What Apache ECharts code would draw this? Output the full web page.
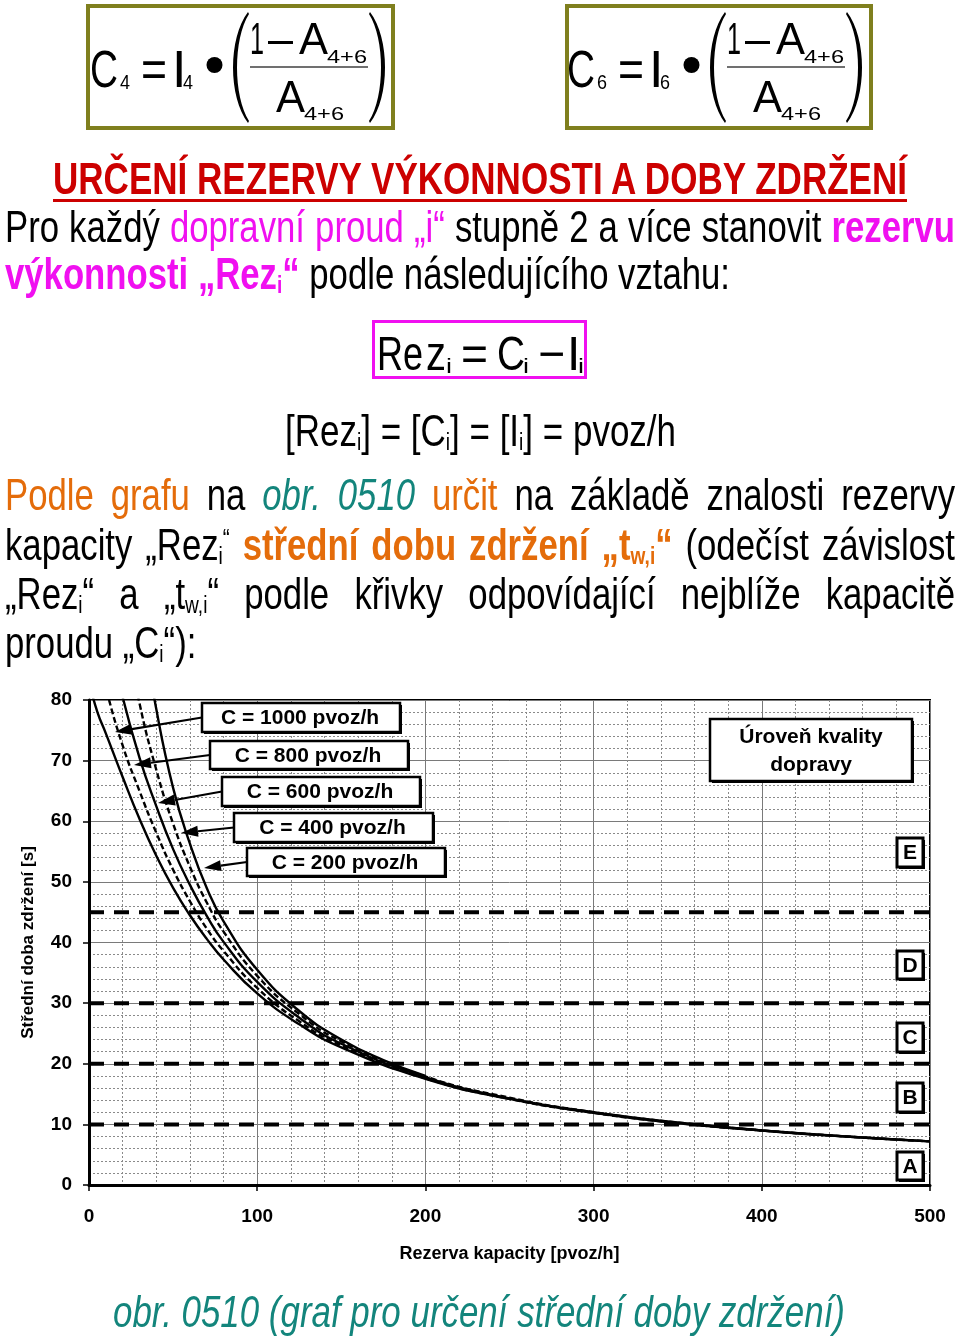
<!DOCTYPE html>
<html><head><meta charset="utf-8">
<script src="https://cdn.jsdelivr.net/npm/echarts@6/dist/echarts.min.js"></script>
<style>
html,body{margin:0;padding:0;background:#fff;}
#page{position:relative;width:960px;height:1341px;overflow:hidden;background:#fff;font-family:"Liberation Sans",Arial,sans-serif;}
#chart{position:absolute;left:0;top:0;width:960px;height:1341px;}
#txt{position:absolute;left:0;top:0;width:960px;height:1341px;pointer-events:none;}
.ln{position:absolute;white-space:nowrap;font-size:45px;line-height:45px;color:#000;transform-origin:0 0;display:inline-block;}
.m{color:#f010f0;}
.o{color:#e46c0a;}
.t{color:#13857c;font-style:italic;}
.s{font-size:55%;position:relative;top:0.18em;}
.q{font-size:60%;position:relative;top:-0.45em;}
.box{position:absolute;box-sizing:border-box;}
svg text{font-family:"Liberation Sans",Arial,sans-serif;fill:#000;}
</style></head>
<body>
<div id="page">
<div id="chart"></div>
<div id="txt">
  <div class="box" style="left:86px;top:4px;width:309px;height:126px;border:4px solid #7f7f1e;"></div>
  <div class="box" style="left:565px;top:4px;width:308px;height:126px;border:4px solid #7f7f1e;"></div>
  <div class="box" style="left:372px;top:320px;width:215px;height:59px;border:3px solid #f010f0;"></div>
  <svg id="formulas" width="960" height="470" style="position:absolute;left:0;top:0;"></svg>

  <div class="ln" id="title" data-mode="fit" data-w="854" style="left:53px;top:156px;font-weight:bold;color:#cc0000;text-decoration:underline;text-decoration-thickness:3px;text-underline-offset:5px;">URČENÍ REZERVY VÝKONNOSTI A DOBY ZDRŽENÍ</div>
  <div class="ln" data-mode="just" data-w="950" style="left:5px;top:204px;">Pro každý <span class="m">dopravní proud „i“</span> stupně 2 a více stanovit <b class="m">rezervu</b></div>
  <div class="ln" id="l2" data-mode="ref" data-w="725" style="left:5px;top:251px;"><b class="m">výkonnosti „Rez<span class="s">i</span>“</b> podle následujícího vztahu:</div>
  <div class="ln" data-mode="fit" data-w="391" style="left:285px;top:408px;">[Rez<span class="s">i</span>] = [C<span class="s">i</span>] = [I<span class="s">i</span>] = pvoz/h</div>
  <div class="ln" data-mode="just" data-w="950" style="left:5px;top:472px;"><span class="o">Podle grafu</span> na <span class="t">obr. 0510</span> <span class="o">určit</span> na základě znalosti rezervy</div>
  <div class="ln" data-mode="just" data-w="950" style="left:5px;top:522px;">kapacity „Rez<span class="s">i</span><span class="q">“</span> <b class="o">střední dobu zdržení „t<span class="s">w,i</span>“</b> (odečíst závislost</div>
  <div class="ln" data-mode="just" data-w="950" style="left:5px;top:571px;">„Rez<span class="s">i</span>“ a „t<span class="s">w,i</span>“ podle křivky odpovídající nejblíže kapacitě</div>
  <div class="ln" data-mode="body" data-w="0" style="left:5px;top:620px;">proudu „C<span class="s">i</span>“):</div>
  <div class="ln" data-mode="fit" data-w="732" style="left:113px;top:1289px;" ><span class="t">obr. 0510 (graf pro určení střední doby zdržení)</span></div>
</div>
</div>
<script>
// ---------------- DATA ----------------
const capacityLabels = ['C = 1000 pvoz/h', 'C = 800 pvoz/h', 'C = 600 pvoz/h', 'C = 400 pvoz/h', 'C = 200 pvoz/h'];
const reserveC1000 = [0, 5, 10, 20, 30, 40, 50, 60, 70, 80, 100, 125, 150, 200, 250, 300, 350, 400, 450, 500];
const delayC1000   = [83, 78, 74.5, 67.3, 60.4, 54.3, 49.0, 44.5, 40.6, 37.2, 31.6, 26.5, 22.7, 17.5, 14.2, 11.9, 10.2, 9.0, 8.0, 7.2];
const reserveC800  = [0, 10, 20, 30, 40, 50, 60, 70, 80, 100, 125, 150, 200, 250, 300, 350, 400, 450, 500];
const delayC800    = [93, 82, 72.5, 65.0, 58.1, 52.0, 46.8, 42.3, 38.6, 32.5, 27.0, 23.0, 17.6, 14.2, 11.9, 10.2, 9.0, 8.0, 7.2];
const reserveC600  = [10, 20, 30, 40, 50, 60, 70, 80, 100, 125, 150, 200, 250, 300, 350, 400, 450, 500];
const delayC600    = [93, 80.5, 70.5, 62.5, 55.4, 49.5, 44.4, 40.1, 33.5, 27.6, 23.3, 17.8, 14.3, 12.0, 10.3, 9.0, 8.0, 7.2];
const reserveC400  = [20, 30, 40, 50, 60, 70, 80, 100, 125, 150, 200, 250, 300, 350, 400];
const delayC400    = [94, 79.5, 68.5, 59.6, 52.5, 46.6, 41.8, 34.5, 28.2, 23.7, 17.9, 14.4, 12.0, 10.3, 9.0];
const reserveC200  = [30, 40, 50, 60, 70, 80, 100, 125, 150, 175, 200];
const delayC200    = [95, 78.5, 65.5, 56.3, 49.0, 43.5, 35.5, 28.7, 24.0, 20.6, 18.0];
const losThresholds = [10, 20, 30, 45];
const losLetters = ['A', 'B', 'C', 'D', 'E'];
const xRange = [0, 500];
const yRange = [0, 80];
const xTitle = 'Rezerva kapacity [pvoz/h]';
const yTitle = 'Střední doba zdržení [s]';
const losTitle = 'Úroveň kvality\ndopravy';

// ---------------- TEXT LAYOUT ----------------
function natW(el){ el.style.transform='none'; el.style.wordSpacing='0px'; return el.getBoundingClientRect().width; }
function layoutText(){
  const ref = document.getElementById('l2');
  const s = (+ref.dataset.w) / natW(ref);
  document.querySelectorAll('.ln').forEach(el=>{
    const mode = el.dataset.mode, target = +el.dataset.w;
    if (mode === 'fit') { const w = natW(el); el.style.transform = 'scaleX(' + (target / w) + ')'; }
    else if (mode === 'ref' || mode === 'body') { el.style.transform = 'scaleX(' + s + ')'; }
    else if (mode === 'just') {
      const w = natW(el);
      const n = (el.textContent.match(/ /g) || []).length;
      const extra = (target / s - w) / Math.max(n, 1);
      el.style.wordSpacing = extra + 'px';
      el.style.transform = 'scaleX(' + s + ')';
    }
  });
}

// ---------------- FORMULAS (SVG) ----------------
const NS = 'http://www.w3.org/2000/svg';
const svg = document.getElementById('formulas');
function T(x, y, str, size, len){
  const t = document.createElementNS(NS, 'text');
  t.setAttribute('x', x); t.setAttribute('y', y); t.setAttribute('font-size', size);
  if (len) { t.setAttribute('textLength', len); t.setAttribute('lengthAdjust', 'spacingAndGlyphs'); }
  t.textContent = str; svg.appendChild(t);
}
function P(d, fill){ const p = document.createElementNS(NS, 'path'); p.setAttribute('d', d); p.setAttribute('fill', fill || '#000'); svg.appendChild(p); }
function formula(dx, idx){
  T(90+dx, 87, 'C', 52, 28);
  T(120+dx, 89, idx, 21, 10);
  T(141+dx, 87, '=', 52, 26);
  T(172+dx, 87, 'I', 52);
  T(183+dx, 89, idx, 21, 10);
  const c = document.createElementNS(NS, 'circle');
  c.setAttribute('cx', 214.5+dx); c.setAttribute('cy', 65); c.setAttribute('r', 8); svg.appendChild(c);
  const L = 230+dx, R = 388+dx;
  P(`M${L+18},12 C${L-2},38 ${L-2},97 ${L+18},123 L${L+19},121 C${L+3},96 ${L+3},39 ${L+19},14 Z`);
  P(`M${R-18},12 C${R+2},38 ${R+2},97 ${R-18},123 L${R-19},121 C${R-3},96 ${R-3},39 ${R-19},14 Z`);
  T(250+dx, 53.5, '1', 44, 14);
  T(268+dx, 53.5, '–', 44, 25);
  T(299+dx, 53.5, 'A', 44, 29);
  T(327+dx, 63, '4+6', 19, 40);
  const ln = document.createElementNS(NS, 'rect');
  ln.setAttribute('x', 250+dx); ln.setAttribute('y', 66); ln.setAttribute('width', 118); ln.setAttribute('height', 2); ln.setAttribute('fill', '#707070'); svg.appendChild(ln);
  T(276+dx, 112, 'A', 44, 29);
  T(304+dx, 120, '4+6', 19, 40);
}
formula(0, '4');
formula(477, '6');
// Rez_i = C_i - I_i
T(377, 370, 'Re', 48, 46);
T(426, 370, 'z', 48, 20);
T(446, 373, 'i', 20, 6);
T(461, 370, '=', 48, 27);
T(497, 370, 'C', 48, 28);
T(523, 373, 'i', 20, 6);
T(538, 370, '−', 48, 27);
T(567, 370, 'I', 48);
T(578, 373, 'i', 20, 6);

layoutText();
if (document.fonts && document.fonts.ready) document.fonts.ready.then(layoutText);

// ---------------- CHART ----------------
const F = '"Liberation Sans", Arial, sans-serif';
const chart = echarts.init(document.getElementById('chart'), null, {renderer: 'canvas'});
const zip = (xs, ys) => xs.map((x, i) => [x, ys[i]]);
const curveSets = [
  [reserveC1000, delayC1000, 'solid'],
  [reserveC800, delayC800, [6, 3]],
  [reserveC600, delayC600, 'solid'],
  [reserveC400, delayC400, [6, 3]],
  [reserveC200, delayC200, 'solid']
];
const series = [];
losThresholds.forEach(v => {
  series.push({
    type: 'line', data: [[xRange[0], v], [xRange[1], v]], showSymbol: false, silent: true, z: 3,
    lineStyle: {color: '#000', width: 4, type: [15, 10]}
  });
});
curveSets.forEach((cs, i) => {
  series.push({
    name: capacityLabels[i], type: 'line', data: zip(cs[0], cs[1]), smooth: 0.5,
    showSymbol: false, clip: true, z: 4,
    lineStyle: {color: '#000', width: 2.4, type: cs[2]}
  });
});

// annotation geometry (pixels)
const labelBoxes = [
  {x: 202, y: 703, w: 198, h: 29, tip: [115, 732]},
  {x: 210, y: 741, w: 198, h: 28, tip: [134, 765]},
  {x: 222, y: 777, w: 198, h: 29, tip: [158, 803]},
  {x: 234, y: 813, w: 199, h: 29, tip: [181, 833]},
  {x: 247, y: 848, w: 198, h: 28, tip: [204, 868]}
];
const letterBoxes = [
  {x: 897, y: 1152, w: 26, h: 28},
  {x: 897, y: 1083, w: 26, h: 29},
  {x: 897, y: 1023, w: 26, h: 29},
  {x: 897, y: 951, w: 26, h: 28},
  {x: 897, y: 838, w: 26, h: 29}
];
const els = [];
function boxEl(b, lw){
  els.push({type: 'rect', z: 100, shape: {x: b.x + 2, y: b.y + 2, width: b.w, height: b.h}, style: {fill: '#000'}});
  els.push({type: 'rect', z: 101, shape: {x: b.x, y: b.y, width: b.w, height: b.h}, style: {fill: '#fff', stroke: '#000', lineWidth: lw}});
}
labelBoxes.forEach((b, i) => {
  const sx = b.x, sy = b.y + b.h / 2;
  const [tx, ty] = b.tip;
  const ang = Math.atan2(ty - sy, tx - sx), L = 17, W = 5.5;
  const bx = tx - L * Math.cos(ang), by = ty - L * Math.sin(ang);
  els.push({type: 'line', z: 102, shape: {x1: sx, y1: sy, x2: bx, y2: by}, style: {stroke: '#000', lineWidth: 2.2}});
  els.push({type: 'polygon', z: 102, shape: {points: [[tx, ty], [bx - W * Math.sin(ang), by + W * Math.cos(ang)], [bx + W * Math.sin(ang), by - W * Math.cos(ang)]]}, style: {fill: '#000'}});
  boxEl(b, 2.5);
  els.push({type: 'text', z: 103, style: {text: capacityLabels[i], x: b.x + b.w / 2 - 1, y: b.y + b.h / 2 + 1, align: 'center', verticalAlign: 'middle', font: 'bold 21px ' + F, fill: '#000'}});
});
boxEl({x: 710, y: 719, w: 202, h: 62}, 2.5);
els.push({type: 'text', z: 103, style: {text: losTitle, x: 811, y: 751, align: 'center', verticalAlign: 'middle', font: 'bold 21px ' + F, lineHeight: 28, fill: '#000'}});
letterBoxes.forEach((b, i) => {
  boxEl(b, 3);
  els.push({type: 'text', z: 103, style: {text: losLetters[i], x: b.x + b.w / 2, y: b.y + b.h / 2 + 1, align: 'center', verticalAlign: 'middle', font: 'bold 21px ' + F, fill: '#000'}});
});

chart.setOption({
  animation: false,
  backgroundColor: 'transparent',
  grid: {left: 89, top: 700, width: 841, height: 485, show: true, borderColor: '#000', borderWidth: 2, containLabel: false},
  xAxis: {
    type: 'value', min: xRange[0], max: xRange[1], interval: 100,
    axisLine: {show: true, onZero: false, lineStyle: {color: '#000', width: 3}},
    axisTick: {show: true, length: 6, lineStyle: {color: '#000', width: 1.5}},
    minorTick: {show: true, splitNumber: 5, length: 0, lineStyle: {width: 0}},
    axisLabel: {color: '#000', fontSize: 19, fontWeight: 'bold', fontFamily: F, margin: 22},
    splitLine: {show: true, lineStyle: {color: '#7a7a7a', width: 1}},
    minorSplitLine: {show: true, lineStyle: {color: '#8a8a8a', width: 1, type: [2, 2]}},
    name: xTitle, nameLocation: 'middle', nameGap: 60,
    nameTextStyle: {color: '#000', fontSize: 18, fontWeight: 'bold', fontFamily: F}
  },
  yAxis: {
    type: 'value', min: yRange[0], max: yRange[1], interval: 10,
    axisLine: {show: true, onZero: false, lineStyle: {color: '#000', width: 3}},
    axisTick: {show: true, length: 6, lineStyle: {color: '#000', width: 1.5}},
    minorTick: {show: true, splitNumber: 5, length: 0, lineStyle: {width: 0}},
    axisLabel: {color: '#000', fontSize: 19, fontWeight: 'bold', fontFamily: F, margin: 17},
    splitLine: {show: true, lineStyle: {color: '#7a7a7a', width: 1}},
    minorSplitLine: {show: true, lineStyle: {color: '#8a8a8a', width: 1, type: [2, 2]}},
    name: yTitle, nameLocation: 'middle', nameGap: 52, nameRotate: 90,
    nameTextStyle: {color: '#000', fontSize: 17, fontWeight: 'bold', fontFamily: F}
  },
  series: series,
  graphic: {elements: els}
});
</script>
</body></html>
